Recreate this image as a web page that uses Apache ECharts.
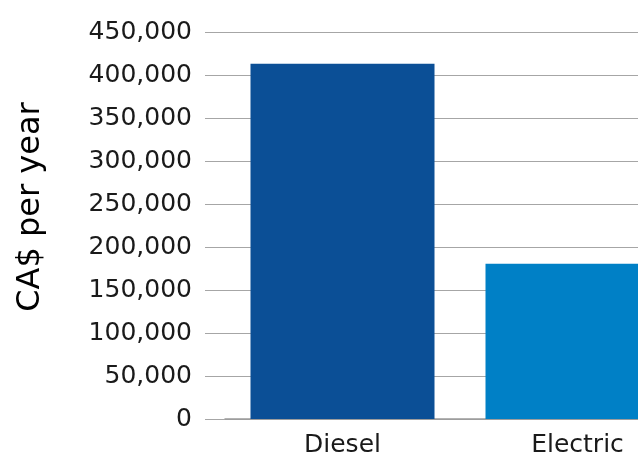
<!DOCTYPE html>
<html>
<head>
<meta charset="utf-8">
<script src="https://cdn.jsdelivr.net/npm/echarts@6/dist/echarts.min.js"></script>
<style>
    html, body { margin: 0; padding: 0; background: #fff; overflow: hidden; }
    #wrap { width: 638px; height: 459px; overflow: hidden; }
    /* the plot runs past the right edge in the original, so the canvas is wider and clipped */
    #chart { width: 695px; height: 459px; }
</style>
</head>
<body>
<div id="wrap"><div id="chart"></div></div>
<script>
    // categories and yearly cost (CA$)
    const categories = ['Diesel', 'Electric'];
    const costs = [413000, 180500];
    const barColors = ['#0b4f96', '#0080c6'];
    const yMin = 0, yMax = 450000, yStep = 50000;

    const myChart = echarts.init(document.getElementById('chart'));
    const labelFont = 'DejaVu Sans';

    let option = {
        backgroundColor: '#fff',
        animation: false,
        grid: {
            left: 225,
            right: 0,
            top: 32,
            bottom: 40
        },
        xAxis: {
            type: 'category',
            data: categories,
            axisTick: { show: false },
            axisLine: {
                lineStyle: { color: '#9a9a9a', width: 1.5 }
            },
            axisLabel: {
                margin: 14,
                color: '#1a1a1a',
                fontFamily: labelFont,
                fontSize: 25
            }
        },
        yAxis: {
            type: 'value',
            min: yMin,
            max: yMax,
            interval: yStep,
            axisLine: { show: false },
            axisTick: {
                show: true,
                length: 20,
                lineStyle: { color: '#a6a6a6' }
            },
            splitLine: {
                lineStyle: { color: '#a6a6a6' }
            },
            axisLabel: {
                margin: 33,
                color: '#1a1a1a',
                fontFamily: labelFont,
                fontSize: 25,
                formatter: function (v) {
                    return v.toLocaleString('en-US');
                }
            }
        },
        graphic: [{
            type: 'text',
            x: 31,
            y: 207,
            rotation: Math.PI / 2,
            style: {
                text: 'CA$ per year',
                font: '500 32px "DejaVu Sans"',
                fill: '#000',
                align: 'center',
                verticalAlign: 'middle'
            }
        }],
        series: [{
            type: 'bar',
            data: costs.map(function (v, i) {
                return { value: v, itemStyle: { color: barColors[i] } };
            }),
            barWidth: 184
        }]
    };
    myChart.setOption(option);
</script>
</body>
</html>
